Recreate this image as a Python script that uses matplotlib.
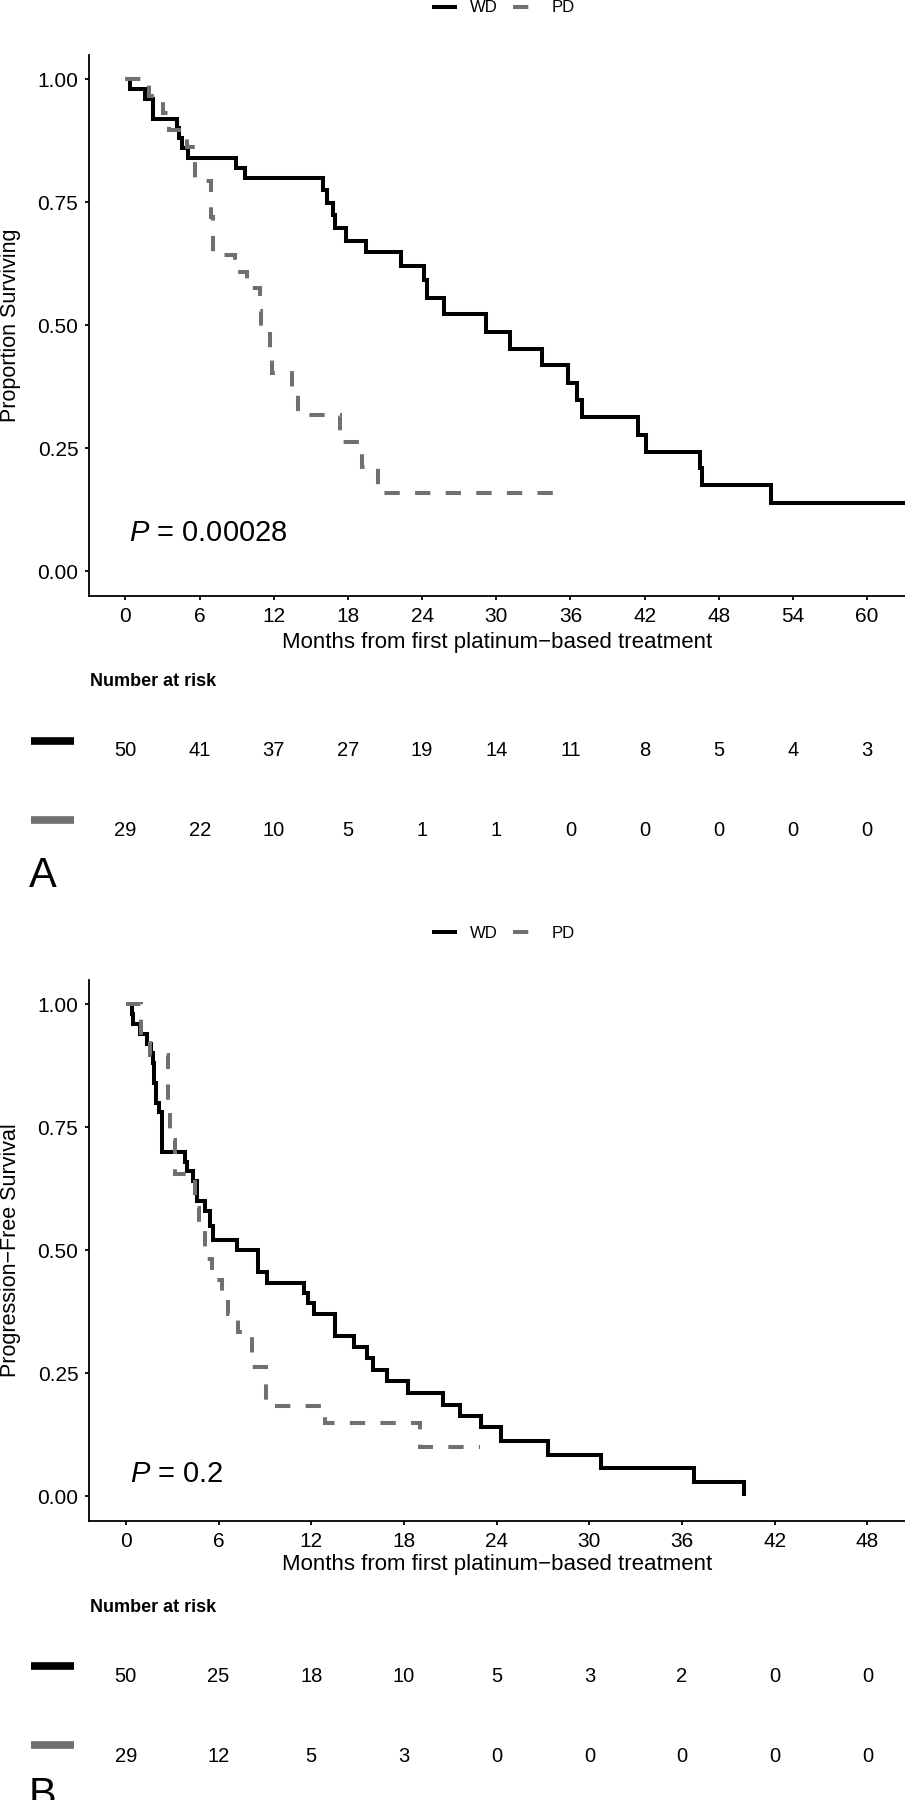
import matplotlib
matplotlib.use("Agg")
import matplotlib.pyplot as plt
from matplotlib.lines import Line2D
from matplotlib import transforms

plt.rcParams['font.family'] = ['Liberation Sans', 'DejaVu Sans']
plt.rcParams['mathtext.fontset'] = 'custom'
plt.rcParams['mathtext.it'] = 'Liberation Sans:italic'
plt.rcParams['mathtext.rm'] = 'Liberation Sans'

# ---------------- data ----------------
groups = ["WD", "PD"]

# Panel A: overall survival
os_wd_time = [0, 0.36, 1.58, 2.25, 4.14, 4.35, 4.54, 5.08, 8.91, 9.69, 16.0, 16.33,
              16.81, 16.95, 17.84, 19.46, 22.29, 24.15, 24.42, 25.8, 29.2, 31.1, 33.7,
              35.8, 36.5, 36.96, 41.5, 42.1, 46.5, 46.67, 52.2]
os_wd_surv = [1.0, 0.98, 0.96, 0.92, 0.90, 0.88, 0.86, 0.84, 0.82, 0.80, 0.774, 0.748,
              0.724, 0.697, 0.671, 0.648, 0.620, 0.592, 0.555, 0.523, 0.487, 0.452, 0.418,
              0.383, 0.348, 0.313, 0.277, 0.242, 0.209, 0.174, 0.138]
os_wd_last = 64.0
os_pd_time = [0, 1.9, 3.05, 3.55, 5.0, 5.6, 6.95, 7.1, 8.87, 9.8, 10.85, 11.0, 11.7,
              11.85, 13.47, 13.98, 17.35, 19.1, 20.45]
os_pd_surv = [1.0, 0.966, 0.931, 0.897, 0.862, 0.793, 0.72, 0.643, 0.609, 0.575, 0.529,
              0.483, 0.439, 0.403, 0.363, 0.317, 0.263, 0.211, 0.158]
os_pd_last = 35.6
os_ticks = [0, 6, 12, 18, 24, 30, 36, 42, 48, 54, 60]
os_risk_wd = [50, 41, 37, 27, 19, 14, 11, 8, 5, 4, 3]
os_risk_pd = [29, 22, 10, 5, 1, 1, 0, 0, 0, 0, 0]
os_pval = "0.00028"

# Panel B: progression-free survival
pfs_wd_time = [0, 0.38, 0.49, 0.92, 1.35, 1.6, 1.75, 1.85, 1.95, 2.15, 2.32, 3.8, 3.95,
               4.35, 4.6, 5.1, 5.45, 5.65, 7.18, 8.58, 9.12, 11.55, 11.8, 12.2, 13.54,
               14.77, 15.59, 15.98, 16.9, 18.25, 20.5, 21.65, 23.0, 24.3, 27.3, 30.75,
               36.78, 40.03]
pfs_wd_surv = [1.0, 0.98, 0.96, 0.94, 0.92, 0.90, 0.88, 0.84, 0.80, 0.78, 0.70, 0.68,
               0.66, 0.64, 0.60, 0.58, 0.55, 0.52, 0.50, 0.456, 0.434, 0.412, 0.392, 0.37,
               0.326, 0.304, 0.281, 0.257, 0.233, 0.21, 0.186, 0.163, 0.14, 0.112, 0.084,
               0.056, 0.028, 0.0]
pfs_wd_last = None
pfs_pd_time = [0, 0.95, 1.55, 2.75, 2.86, 3.2, 4.5, 4.75, 5.13, 5.56, 6.2, 6.64, 7.28,
               8.15, 9.05, 12.9, 19.04]
pfs_pd_surv = [1.0, 0.931, 0.897, 0.793, 0.724, 0.655, 0.586, 0.552, 0.483, 0.44, 0.405,
               0.37, 0.333, 0.262, 0.183, 0.148, 0.10]
pfs_pd_last = 22.9
pfs_ticks = [0, 6, 12, 18, 24, 30, 36, 42, 48]
pfs_risk_wd = [50, 25, 18, 10, 5, 3, 2, 0, 0]
pfs_risk_pd = [29, 12, 5, 3, 0, 0, 0, 0, 0]
pfs_pval = "0.2"

y_ticks = [0.0, 0.25, 0.5, 0.75, 1.0]
x_title = "Months from first platinum\u2212based treatment"

# ---------------- style / layout ----------------
W, H, DPI = 905, 1800, 100
WD_COLOR = "#000000"
PD_COLOR = "#707070"
LW = 2.9
SPINE_LW = 1.3
AX_L = 89.4          # px, left spine
AX_T = 54.7          # px, top of panel (relative to panel offset)
AX_B = 595.6         # px, bottom spine

fig = plt.figure(figsize=(W / DPI, H / DPI), dpi=DPI)
fig.patch.set_facecolor("white")


def fy(py):
    return 1 - py / H


def fx(px):
    return px / W


def with_tail(t, s, last):
    t = list(t)
    s = list(s)
    if last is not None:
        t.append(last)
        s.append(s[-1])
    return t, s


def panel(yoff, xlim, ticks, wd, pd, risk_wd, risk_pd, pval, pval_xy, ylabel,
          letter, letter_base, title_base):
    ax = fig.add_axes([fx(AX_L), fy(yoff + AX_B), 1 - fx(AX_L), (AX_B - AX_T) / H])
    tw, sw = with_tail(*wd)
    tp, sp = with_tail(*pd)
    l1, = ax.step(tw, sw, where='post', color=WD_COLOR, lw=LW,
                  solid_joinstyle='miter', solid_capstyle='butt', label=groups[0])
    l2, = ax.step(tp, sp, where='post', color=PD_COLOR, lw=LW,
                  dash_joinstyle='miter', dash_capstyle='butt', label=groups[1])
    l2.set_dashes((3.8, 3.8))
    ax.set_xlim(*xlim)
    ax.set_ylim(-0.05, 1.05)
    ax.set_xticks(ticks)
    ax.set_xticklabels([str(t) for t in ticks])
    ax.set_yticks(y_ticks)
    ax.set_yticklabels([f"{v:.2f}" for v in y_ticks])
    for s in ("top", "right"):
        ax.spines[s].set_visible(False)
    for s in ("left", "bottom"):
        ax.spines[s].set_linewidth(SPINE_LW)
    ax.tick_params(axis='both', length=3.0, width=SPINE_LW, labelsize=15,
                   colors="black")
    ax.tick_params(axis='x', pad=5.5)
    ax.tick_params(axis='y', pad=5.0)
    ax.text(pval_xy[0], pval_xy[1], r"$\mathit{P}$ = " + pval, fontsize=21,
            ha='left', va='center')

    # axis titles
    fig.text(fx(11), fy(yoff + (AX_T + AX_B) / 2), ylabel, rotation=90,
             fontsize=15.5, ha='center', va='center')
    fig.text(fx((AX_L + W) / 2), fy(title_base), x_title, fontsize=16,
             ha='center', va='baseline')

    # legend
    fig.legend(handles=[l1, l2], labels=groups, loc='center',
               bbox_to_anchor=(fx(503), fy(yoff + 8)), ncol=2, frameon=False,
               fontsize=12, handlelength=1.5, handletextpad=0.8, columnspacing=0.9,
               borderpad=0.0, borderaxespad=0.0)

    # risk table
    trans = transforms.blended_transform_factory(ax.transData, fig.transFigure)
    fig.text(fx(AX_L + 1), fy(yoff + 682), "Number at risk", fontsize=13,
             fontweight='bold', ha='left', va='center')
    for row_y, vals, col, bar_y in ((751, risk_wd, WD_COLOR, 740.5),
                                    (831, risk_pd, PD_COLOR, 820.3)):
        for t, v in zip(ticks, vals):
            ax.text(t, fy(yoff + row_y), str(v), transform=trans, fontsize=14.5,
                    ha='center', va='center', clip_on=False)
        fig.add_artist(Line2D([fx(31), fx(74.3)], [fy(yoff + bar_y)] * 2,
                              transform=fig.transFigure, color=col, lw=5.5,
                              solid_capstyle='butt'))
    fig.text(fx(29), fy(letter_base), letter, fontsize=30, ha='left',
             va='baseline')
    return ax


panel(0, (-2.92, 63.07), os_ticks, (os_wd_time, os_wd_surv, os_wd_last),
      (os_pd_time, os_pd_surv, os_pd_last), os_risk_wd, os_risk_pd, os_pval,
      (0.3, 0.077), "Proportion Surviving", "A", 887, 648)

panel(925, (-2.36, 50.43), pfs_ticks, (pfs_wd_time, pfs_wd_surv, pfs_wd_last),
      (pfs_pd_time, pfs_pd_surv, pfs_pd_last), pfs_risk_wd, pfs_risk_pd, pfs_pval,
      (0.25, 0.045), "Progression\u2212Free Survival", "B", 1807, 1570)

fig.savefig("out.png", dpi=DPI, facecolor="white")
